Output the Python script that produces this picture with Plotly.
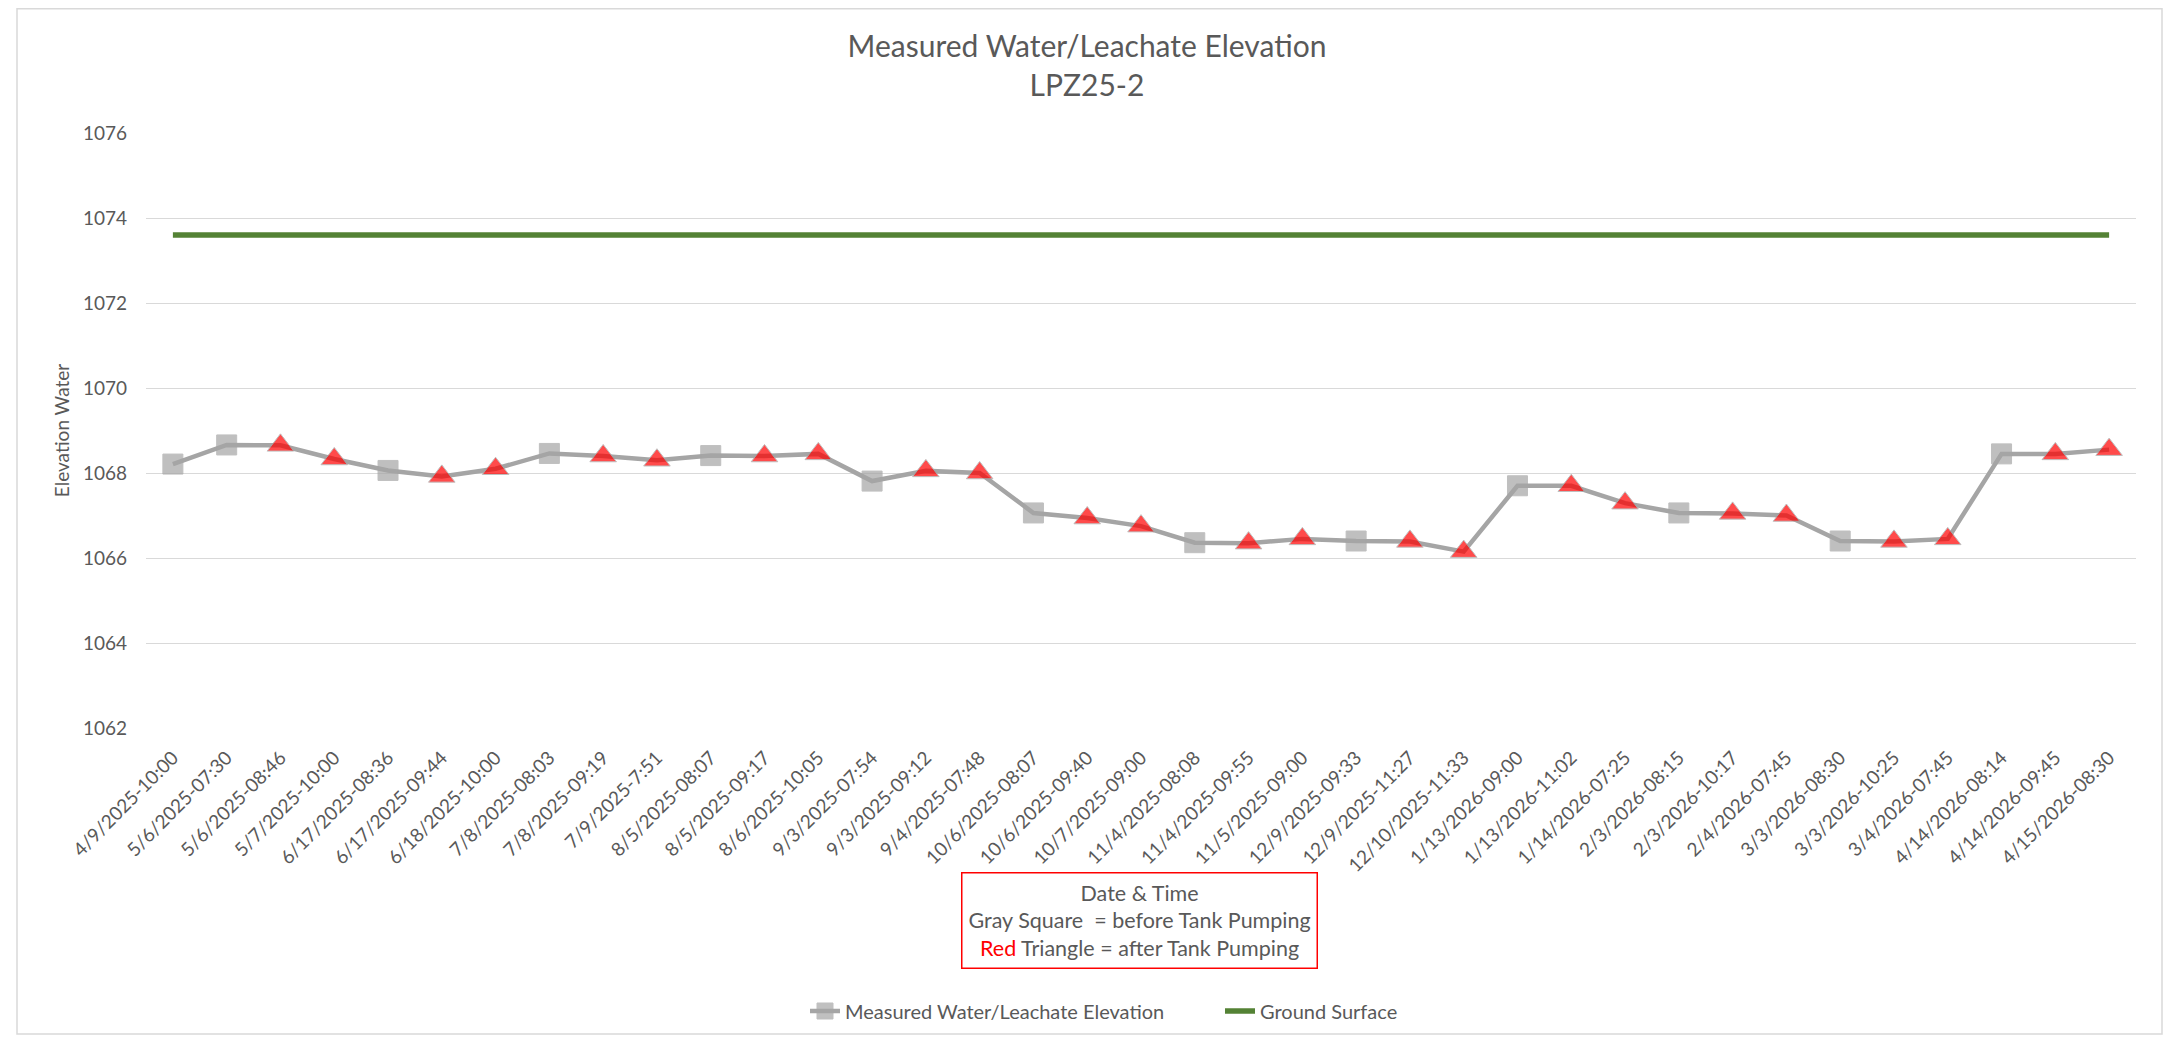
import plotly.graph_objects as go

# ---------------- data ----------------
date_labels = [
    "4/9/2025-10:00", "5/6/2025-07:30", "5/6/2025-08:46", "5/7/2025-10:00",
    "6/17/2025-08:36", "6/17/2025-09:44", "6/18/2025-10:00", "7/8/2025-08:03",
    "7/8/2025-09:19", "7/9/2025-7:51", "8/5/2025-08:07", "8/5/2025-09:17",
    "8/6/2025-10:05", "9/3/2025-07:54", "9/3/2025-09:12", "9/4/2025-07:48",
    "10/6/2025-08:07", "10/6/2025-09:40", "10/7/2025-09:00", "11/4/2025-08:08",
    "11/4/2025-09:55", "11/5/2025-09:00", "12/9/2025-09:33", "12/9/2025-11:27",
    "12/10/2025-11:33", "1/13/2026-09:00", "1/13/2026-11:02", "1/14/2026-07:25",
    "2/3/2026-08:15", "2/3/2026-10:17", "2/4/2026-07:45", "3/3/2026-08:30",
    "3/3/2026-10:25", "3/4/2026-07:45", "4/14/2026-08:14", "4/14/2026-09:45",
    "4/15/2026-08:30",
]

measured_elev = [
    1068.21, 1068.66, 1068.65, 1068.33, 1068.06, 1067.92, 1068.10, 1068.46,
    1068.40, 1068.30, 1068.41, 1068.40, 1068.45, 1067.81, 1068.05, 1068.00,
    1067.06, 1066.94, 1066.75, 1066.36, 1066.35, 1066.45, 1066.40, 1066.39,
    1066.15, 1067.70, 1067.70, 1067.29, 1067.06, 1067.05, 1067.00, 1066.40,
    1066.39, 1066.45, 1068.45, 1068.45, 1068.55,
]

# "before" = gray square (before tank pumping), "after" = red triangle
pump_state = [
    "before", "before", "after", "after", "before", "after", "after", "before",
    "after", "after", "before", "after", "after", "before", "after", "after",
    "before", "after", "after", "before", "after", "after", "before", "after",
    "after", "before", "after", "after", "before", "after", "after", "before",
    "after", "after", "before", "after", "after",
]

ground_surface_elev = 1073.6
ground_surface = [ground_surface_elev for _ in date_labels]

y_ticks = [1062, 1064, 1066, 1068, 1070, 1072, 1074, 1076]

# ---------------- styling ----------------
FONT = "Lato"
TXT = "#595959"
GRAY = "#A5A5A5"
GREEN = "#548235"
RED = "#FF0000"

OFF = 8                       # browser default body margin
PAGE_W, PAGE_H = 2182, 1044
W, H = PAGE_W - 2 * OFF, PAGE_H - 2 * OFF
# plot area in page pixels
PL, PR, PT, PB = 146, 2136, 133, 728
L, R, T, B = PL - OFF, PR - OFF, PT - OFF, PB - OFF


def px_x(x_page):
    return (x_page - OFF - L) / (R - L)


def px_y(y_page):
    return (B - (y_page - OFF)) / (B - T)


symbols = ["square" if s == "before" else "triangle-up" for s in pump_state]
fills = [GRAY if s == "before" else RED for s in pump_state]
sizes = [20 if s == "before" else 23 for s in pump_state]

fig = go.Figure()
fig.add_trace(go.Scatter(
    x=date_labels, y=measured_elev, mode="lines+markers",
    name="Measured Water/Leachate Elevation",
    line=dict(color=GRAY, width=4.5),
    marker=dict(symbol=symbols, color=fills, size=sizes,
                line=dict(color=GRAY, width=1)),
    legendwidth=370,
))
fig.add_trace(go.Scatter(
    x=date_labels, y=ground_surface, mode="lines",
    name="Ground Surface",
    line=dict(color=GREEN, width=5.5),
))

fig.update_layout(
    width=W, height=H,
    margin=dict(l=L, r=W - R, t=T, b=H - B, autoexpand=False),
    paper_bgcolor="white", plot_bgcolor="white",
    font=dict(family=FONT, color=TXT, size=19),
    title=dict(
        text="Measured Water/Leachate Elevation<br>LPZ25-2",
        x=0.5 - OFF / W / 2, xref="container", xanchor="center",
        y=1 - 48.5 / H, yref="container", yanchor="middle",
        font=dict(family=FONT, size=30, color=TXT),
    ),
    showlegend=True,
    legend=dict(
        orientation="h", x=px_x(805), xanchor="left",
        y=px_y(1011), yanchor="middle",
        font=dict(family=FONT, size=20, color=TXT),
        itemwidth=30, bgcolor="rgba(0,0,0,0)", borderwidth=0,
    ),
    xaxis=dict(
        type="category", range=[-0.5, len(date_labels) - 0.5],
        tickangle=-45, showgrid=False, zeroline=False, showline=False,
        ticks="", ticklabelstandoff=14,
        tickfont=dict(family=FONT, size=19, color=TXT),
    ),
    yaxis=dict(
        range=[y_ticks[0], y_ticks[-1]], tickvals=y_ticks,
        showgrid=True, gridcolor="#D9D9D9", gridwidth=1.3,
        zeroline=False, showline=False, ticks="", ticklabelstandoff=18,
        tickfont=dict(family=FONT, size=19, color=TXT),
        title=dict(text="Elevation Water", standoff=8,
                   font=dict(family=FONT, size=19, color=TXT)),
    ),
    hovermode=False,
)

# Chart outer border
fig.add_shape(type="rect", xref="paper", yref="paper",
              x0=px_x(17), x1=px_x(2162), y0=px_y(1034), y1=px_y(8.8),
              line=dict(color="#D9D9D9", width=1.5), fillcolor="rgba(0,0,0,0)",
              layer="below")

# Explanation box
fig.add_annotation(
    xref="paper", yref="paper", x=px_x(1139), y=px_y(920),
    xanchor="center", yanchor="middle", showarrow=False, align="center",
    text=("Date &amp; Time<br>Gray Square\u00a0 = before Tank Pumping<br>"
          "<span style='color:#FF0000'>Red</span> Triangle = after Tank Pumping"),
    font=dict(family=FONT, size=21.5, color=TXT),
    bordercolor=RED, borderwidth=1.5, borderpad=6, bgcolor="white",
)

fig.write_html("out.html")
